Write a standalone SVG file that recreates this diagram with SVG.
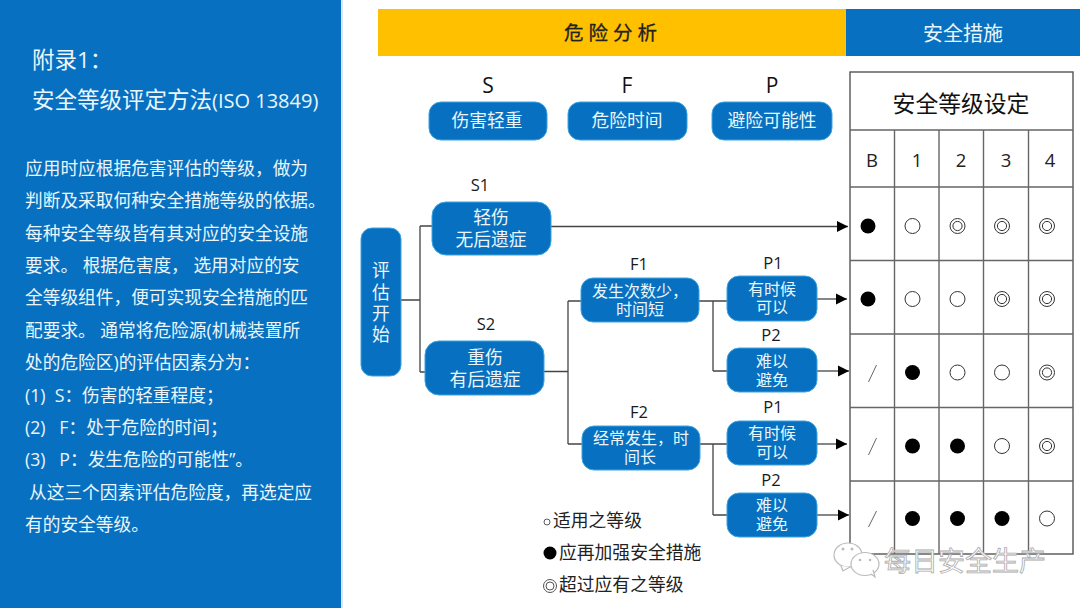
<svg xmlns="http://www.w3.org/2000/svg" width="1080" height="608" viewBox="0 0 1080 608">
<style>
text{font-family:"Open Sans","Noto Sans CJK SC",sans-serif}
.b{fill:#0870c0;stroke:#3ba4e0;stroke-width:1}
.w{fill:#eaf6fb;font-size:17.8px;text-anchor:middle}
.s{fill:#eaf6fb;font-size:16px;text-anchor:middle}
.l{fill:#eaf6fb;font-size:17.7px;white-space:pre}
.k{fill:#1a1a1a;font-size:16.5px;text-anchor:middle}
.h{fill:#111;font-size:22.8px;text-anchor:middle}
.c{fill:none;stroke:#444;stroke-width:1.3}
.g{fill:none;stroke:#666;stroke-width:1.4}
.f{fill:#000}
.o{fill:#fff;stroke:#333;stroke-width:1}
.leg{fill:#222;font-size:17.8px}
</style>
<defs>
<marker id="a" markerUnits="userSpaceOnUse" markerWidth="12" markerHeight="12" refX="11" refY="6" orient="auto"><path d="M0,0.5 L11,6 L0,11.5Z" fill="#000"/></marker>
<g id="dbl"><circle r="7.5" class="o"/><circle r="4.6" class="o"/></g>
</defs>
<rect width="341" height="608" fill="#0870c0"/>
<rect x="341" width="2" height="608" fill="#d5e8f4"/>
<g id="panel">
<text class="l" x="32" y="68" style="font-size:22.5px">附录1：</text>
<text class="l" x="32" y="108" style="font-size:22.5px">安全等级评定方法<tspan style="font-size:20px">(ISO 13849)</tspan></text>
<text class="l" x="25" y="175">应用时应根据危害评估的等级，做为</text>
<text class="l" x="25" y="207">判断及采取何种安全措施等级的依据。</text>
<text class="l" x="25" y="240">每种安全等级皆有其对应的安全设施</text>
<text class="l" x="25" y="272">要求。 根据危害度， 选用对应的安</text>
<text class="l" x="25" y="304">全等级组件，便可实现安全措施的匹</text>
<text class="l" x="25" y="337">配要求。 通常将危险源(机械装置所</text>
<text class="l" x="25" y="369">处的危险区)的评估因素分为：</text>
<text class="l" x="25" y="402">(1)  S：伤害的轻重程度；</text>
<text class="l" x="25" y="434">(2)   F：处于危险的时间；</text>
<text class="l" x="25" y="466">(3)   P：发生危险的可能性”。</text>
<text class="l" x="29" y="499">从这三个因素评估危险度，再选定应</text>
<text class="l" x="25" y="531">有的安全等级。</text>
</g>
<g id="header">
<rect x="378" y="9" width="468" height="47" fill="#ffc000"/>
<rect x="846" y="9" width="234" height="47" fill="#0870c0"/>
<text x="613" y="40" style="font-size:19.500px;letter-spacing:5px;text-anchor:middle;fill:#222;stroke:#222;stroke-width:0.300">危险分析</text>
<text x="963" y="41" style="font-size:20px;text-anchor:middle;fill:#eaf6fb">安全措施</text>
</g>
<g id="connectors">
<path class="c" d="M401,300H420M420,226V372M420,226H432M420,372H425"/>
<path class="c" d="M551,226.500H848" marker-end="url(#a)"/>
<path class="c" d="M544,371.500H568M568,301V444M568,301H581M568,444H582"/>
<path class="c" d="M699,301H713M713,301V371M713,301H727M713,371H727"/>
<path class="c" d="M700,444H713M713,444V515M713,444H727M713,515H727"/>
<path class="c" d="M817,299H847" marker-end="url(#a)"/>
<path class="c" d="M817,371H849" marker-end="url(#a)"/>
<path class="c" d="M817,444H847" marker-end="url(#a)"/>
<path class="c" d="M817,515H849" marker-end="url(#a)"/>
</g>
<g id="col-s"><text x="488" y="93" style="font-size:21px;text-anchor:middle;fill:#111">S</text><rect class="b" x="429" y="102" width="118" height="38" rx="12"/><text class="w" x="487" y="127">伤害轻重</text></g>
<g id="col-f"><text x="627" y="93" style="font-size:21px;text-anchor:middle;fill:#111">F</text><rect class="b" x="568" y="102" width="119" height="38" rx="12"/><text class="w" x="627" y="127">危险时间</text></g>
<g id="col-p"><text x="772" y="93" style="font-size:21px;text-anchor:middle;fill:#111">P</text><rect class="b" x="712" y="102" width="120" height="38" rx="12"/><text class="w" x="772" y="127">避险可能性</text></g>
<g id="start"><rect class="b" x="361" y="228" width="40" height="148" rx="11"/><text class="w" x="381" y="276.500">评</text><text class="w" x="381" y="298.500">估</text><text class="w" x="381" y="319.500">开</text><text class="w" x="381" y="341">始</text></g>
<g id="s1"><text class="k" x="480" y="191">S1</text><rect class="b" x="432" y="202" width="119" height="53" rx="14"/><text class="w" x="491" y="224">轻伤</text><text class="w" x="491" y="246">无后遗症</text></g>
<g id="s2"><text class="k" x="486" y="330">S2</text><rect class="b" x="425" y="341" width="119" height="54" rx="14"/><text class="w" x="485" y="364">重伤</text><text class="w" x="485" y="386">有后遗症</text></g>
<g id="f1"><text class="k" x="639" y="270">F1</text><rect class="b" x="581" y="278" width="118" height="44" rx="12"/><text class="s" x="640" y="297">发生次数少，</text><text class="s" x="640" y="315">时间短</text></g>
<g id="f2"><text class="k" x="639" y="418">F2</text><rect class="b" x="582" y="426" width="118" height="44" rx="12"/><text class="s" x="641" y="444">经常发生，时</text><text class="s" x="640" y="462.500">间长</text></g>
<g id="p1a"><text class="k" x="773" y="269">P1</text><rect class="b" x="727" y="276" width="90" height="45" rx="12"/><text class="s" x="772" y="295">有时候</text><text class="s" x="772" y="313">可以</text></g>
<g id="p2a"><text class="k" x="771" y="341">P2</text><rect class="b" x="727" y="348" width="90" height="44" rx="12"/><text class="s" x="772" y="367">难以</text><text class="s" x="772" y="386">避免</text></g>
<g id="p1b"><text class="k" x="773" y="413">P1</text><rect class="b" x="727" y="421" width="90" height="44" rx="12"/><text class="s" x="772" y="439">有时候</text><text class="s" x="772" y="458">可以</text></g>
<g id="p2b"><text class="k" x="771" y="486">P2</text><rect class="b" x="727" y="493" width="90" height="44" rx="12"/><text class="s" x="772" y="511">难以</text><text class="s" x="772" y="530">避免</text></g>
<g id="table">
<rect x="850" y="72" width="223" height="482" fill="#fff" stroke="#555" stroke-width="1.4"/>
<path class="g" d="M850,130H1073M850,187H1073M850,260.500H1073M850,334H1073M850,407.500H1073M850,481H1073M894.500,130V554M939,130V554M983.500,130V554M1028.500,130V554"/>
<text class="h" x="961" y="112">安全等级设定</text>
<g style="font-size:18.500px;text-anchor:middle;fill:#222"><text x="872" y="167">B</text><text x="917" y="167">1</text><text x="961" y="167">2</text><text x="1006" y="167">3</text><text x="1050" y="167">4</text></g>
<circle class="f" cx="868" cy="226" r="7.500"/><circle class="o" cx="912.500" cy="226" r="7.500"/><use href="#dbl" x="957.500" y="226"/><use href="#dbl" x="1002" y="226"/><use href="#dbl" x="1047" y="226"/>
<circle class="f" cx="868" cy="299" r="7.500"/><circle class="o" cx="912.500" cy="299" r="7.500"/><circle class="o" cx="957.500" cy="299" r="7.500"/><use href="#dbl" x="1002" y="299"/><use href="#dbl" x="1047" y="299"/>
<path class="g" d="M876.500,365L868.500,382M876.500,438L868.500,455M876.500,511L868.500,527" style="stroke-width:1"/>
<circle class="f" cx="912.500" cy="372.500" r="7.500"/><circle class="o" cx="957.500" cy="372.500" r="7.500"/><circle class="o" cx="1002" cy="372.500" r="7.500"/><use href="#dbl" x="1047" y="372.500"/>
<circle class="f" cx="912.500" cy="446" r="7.500"/><circle class="f" cx="957.500" cy="446" r="7.500"/><circle class="o" cx="1002" cy="446" r="7.500"/><use href="#dbl" x="1047" y="446"/>
<circle class="f" cx="912.500" cy="518.500" r="7.500"/><circle class="f" cx="957.500" cy="518.500" r="7.500"/><circle class="f" cx="1002" cy="518.500" r="7.500"/><circle class="o" cx="1047" cy="518.500" r="7.500"/>
</g>
<g id="legend">
<circle cx="547" cy="522" r="3" fill="#fff" stroke="#333" stroke-width="0.800"/>
<text class="leg" x="553" y="527">适用之等级</text>
<circle cx="550" cy="553" r="6.500" fill="#000"/>
<text class="leg" x="559" y="559">应再加强安全措施</text>
<circle cx="550" cy="586" r="6.500" fill="#fff" stroke="#555"/><circle cx="550" cy="586" r="4" fill="#fff" stroke="#555"/>
<text class="leg" x="559" y="591">超过应有之等级</text>
</g>
<g id="watermark">
<g fill="#fff" stroke="#bbb" stroke-width="1.200">
<ellipse cx="848" cy="555" rx="14" ry="12"/><path d="M841,566L843,571L850,567"/>
<ellipse cx="865" cy="564" rx="14" ry="11.500"/><path d="M871,574L875,577L873,570"/>
</g>
<g fill="#bbb"><circle cx="843" cy="549" r="1.500"/><circle cx="852" cy="549" r="1.500"/><circle cx="860" cy="560" r="1.300"/><circle cx="870" cy="560" r="1.300"/></g>
<text x="884" y="571" style="font-size:27px;fill:#fff;stroke:#aaa;stroke-width:0.800">每日安全生产</text>
</g>
</svg>
